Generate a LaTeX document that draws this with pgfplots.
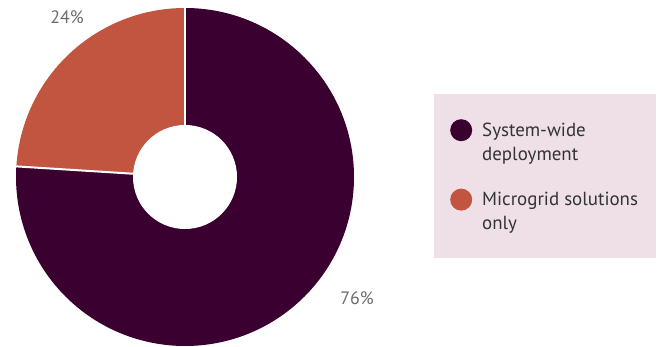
\documentclass[border=0pt]{standalone}
\usepackage{pgfplots}
\pgfplotsset{compat=1.18}
\usepackage{fontspec}
\setmainfont{PT Sans}
\definecolor{darkm}{HTML}{3A0030}
\definecolor{orng}{HTML}{C25540}
\definecolor{legbg}{HTML}{EFE0E7}
\definecolor{lbl}{HTML}{6A6A6A}
\definecolor{legtxt}{HTML}{333333}
% data (percent)
\def\valA{76}% System-wide deployment
\def\valB{24}% Microgrid solutions only
\begin{document}
\begin{tikzpicture}
\pgfmathsetmacro{\angA}{90-3.6*\valA}
\pgfmathsetmacro{\angB}{\angA-3.6*\valB}
\begin{axis}[
  width=659bp, height=347bp, scale only axis,
  xmin=0, xmax=659, ymin=0, ymax=347,
  hide axis, clip=false,
  legend style={
    at={(axis cs:434,253)}, anchor=north west,
    fill=legbg, draw=none,
    inner xsep=16bp, inner ysep=25bp,
    font=\fontsize{19}{24}\selectfont\color{legtxt},
    row sep=25bp,
    cells={anchor=west, align=left},
    /tikz/every odd column/.append style={column sep=8bp},
  },
  legend image code/.code={\fill[#1] (11bp,12bp) circle (11bp);},
]
\path (axis cs:0,0) rectangle (axis cs:659,347);
% slices
\fill[darkm] (axis cs:185,170) -- ++(90:169bp) arc[start angle=90, end angle=\angA, radius=169bp] -- cycle;
\fill[orng] (axis cs:185,170) -- ++(\angA:169bp) arc[start angle=\angA, end angle=\angB, radius=169bp] -- cycle;
\draw[white, line width=2bp] (axis cs:185,170) -- ++(90:170bp);
\draw[white, line width=2bp] (axis cs:185,170) -- ++(\angA:170bp);
\fill[white] (axis cs:185,170) circle (52bp);
\addlegendimage{draw=none, fill=darkm}
\addlegendentry{System-wide\\deployment}
\addlegendimage{draw=none, fill=orng}
\addlegendentry{Microgrid solutions\\only}
\node[text=lbl, font=\fontsize{18}{20}\selectfont] at (axis cs:67,330) {24\%};
\node[text=lbl, font=\fontsize{18}{20}\selectfont] at (axis cs:357,49) {76\%};
\end{axis}
\end{tikzpicture}
\end{document}
